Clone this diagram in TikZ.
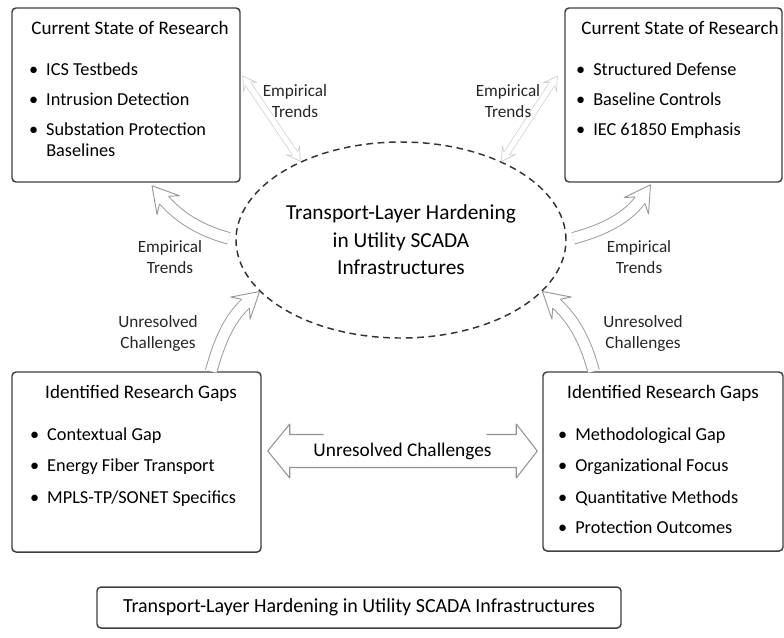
\documentclass[tikz,border=0pt]{standalone}
\usepackage{fontspec}
\setmainfont{Carlito}
\usetikzlibrary{shapes.geometric,decorations.markings,calc}

% open (hollow) arrow heads, drawn in the local frame of a marking
\newcommand\openhead[1]{%
  \fill[white] (0,0) -- (-19pt,11pt) -- (-14pt,4.4pt) -- (-14pt,-4.4pt) -- (-19pt,-11pt) -- cycle;
  \draw[#1, line width=0.7pt, line join=round]
    (-14pt,4.4pt) -- (-19pt,11pt) -- (0,0) -- (-19pt,-11pt) -- (-14pt,-4.4pt);}
\newcommand\thinhead[1]{%
  \fill[white] (0,0) -- (-10pt,6pt) -- (-7pt,2.4pt) -- (-7pt,-2.4pt) -- (-10pt,-6pt) -- cycle;
  \draw[#1, line width=0.5pt, line join=round]
    (-7pt,2.4pt) -- (-10pt,6pt) -- (0,0) -- (-10pt,-6pt) -- (-7pt,-2.4pt);}

% bent hollow arrow: shaft as a double line, head placed at the end
\newcommand\bendarrow[3][]{%
  \draw[shaft,#1] #2 #3;
  \path[decoration={markings, mark=at position 1 with {\openhead{gray!80}}}, decorate] #2 #3;}
% faint two-headed hollow arrow
\newcommand\faintarrow[2]{%
  \draw[faintshaft] #1 -- #2;
  \path[decoration={markings,
      mark=at position 0 with {\pgftransformrotate{180}\thinhead{gray!40}},
      mark=at position 1 with {\thinhead{gray!40}}}, decorate] #1 -- #2;}

\tikzset{
  box/.style={draw=black!75, line width=1.1pt, rounded corners=3pt, fill=white, inner sep=0pt},
  boxtitle/.style={font=\fontsize{14.3}{16}\selectfont, inner sep=0pt},
  item/.style={font=\fontsize{13.7}{16}\selectfont, inner sep=0pt, anchor=mid west},
  tag/.style={font=\fontsize{12.9}{15.75}\selectfont, align=center, inner sep=0pt, text=black!85},
  coreshape/.style={ellipse, draw=black!80, line width=1.1pt, dash pattern=on 5pt off 3.5pt,
    minimum width=247.5pt, minimum height=147pt, inner sep=0pt, align=center,
    font=\fontsize{16}{20.6}\selectfont},
  shaft/.style={draw=gray!80, line width=0.7pt, double=white, double distance=8pt, shorten >=12pt},
  faintshaft/.style={draw=gray!40, line width=0.5pt, double=white, double distance=4pt,
    shorten >=6pt, shorten <=6pt},
  wide/.style={draw=gray!85, line width=0.8pt, line join=round},
}
\newcommand\bul{\llap{\textbullet\hspace{6pt}}}

\begin{document}
\begin{tikzpicture}[x=0.75pt, y=0.75pt]
\useasboundingbox (0,0) rectangle (784,-637);

% central topic
\node[coreshape] (core) at (401,-240)
  {Transport-Layer Hardening\\in Utility SCADA\\Infrastructures};

% four surrounding boxes
\node[box, minimum width=171pt, minimum height=130.5pt] (tl) at (126,-95) {};
\node[box, minimum width=162.75pt, minimum height=130.5pt] (tr) at (673.5,-95) {};
\node[box, minimum width=186.75pt, minimum height=135pt] (bl) at (136.5,-462) {};
\node[box, minimum width=180pt, minimum height=134.25pt] (br) at (663,-461.5) {};

% top-left contents
\node[boxtitle] (tlh) at (130,-28) {Current State of Research};
\node[item] (tl1) at (46,-72) {\bul ICS Testbeds};
\node[item] (tl2) at (46,-102) {\bul Intrusion Detection};
\node[item] (tl3) at (46,-132) {\bul Substation Protection};
\node[item] (tl4) at (46,-153) {Baselines};

% top-right contents
\node[boxtitle] (trh) at (680,-28) {Current State of Research};
\node[item] (tr1) at (593,-72) {\bul Structured Defense};
\node[item] (tr2) at (593,-102) {\bul Baseline Controls};
\node[item] (tr3) at (593,-132) {\bul IEC 61850 Emphasis};

% bottom-left contents
\node[boxtitle] (blh) at (141,-393) {Identified Research Gaps};
\node[item] (bl1) at (47,-437) {\bul Contextual Gap};
\node[item] (bl2) at (47,-468) {\bul Energy Fiber Transport};
\node[item] (bl3) at (47,-500) {\bul MPLS-TP/SONET Specifics};

% bottom-right contents
\node[boxtitle] (brh) at (663,-393) {Identified Research Gaps};
\node[item] (br1) at (575,-437) {\bul Methodological Gap};
\node[item] (br2) at (575,-468) {\bul Organizational Focus};
\node[item] (br3) at (575,-500) {\bul Quantitative Methods};
\node[item] (br4) at (575,-530) {\bul Protection Outcomes};

% caption box
\node[box, minimum width=393pt, minimum height=30.75pt, font=\fontsize{15}{17}\selectfont]
  (cap) at (359,-607.5) {Transport-Layer Hardening in Utility SCADA Infrastructures};

% faint links between the upper boxes and the topic
\faintarrow{([shift={(2,19)}]tl.east)}{(core.142)}
\faintarrow{([shift={(-7,19)}]tr.west)}{(core.38)}

% bent hollow arrows
\bendarrow[shorten <=5pt]{(core.west)}{to[out=165, in=-50] ([shift={(26,-3)}]tl.south)}
\bendarrow[shorten <=5pt]{(core.east)}{to[out=15, in=-124] ([shift={(-23,-2)}]tr.south)}
\bendarrow{([xshift=56]bl.north)}{to[out=75, in=-139] (core.200)}
\bendarrow{([xshift=-52]br.north)}{to[out=105, in=-41] (core.340)}

% wide two-headed arrow between the lower boxes
\coordinate (hl) at ([shift={(6,11)}]bl.east);
\coordinate (hr) at ([shift={(-5,10.5)}]br.west);
\draw[wide] ([shift={(56,16.5)}]hl) -- ([shift={(22,16.5)}]hl) -- ([shift={(22,27)}]hl)
  -- (hl) -- ([shift={(22,-27)}]hl) -- ([shift={(22,-16.5)}]hl)
  -- ([shift={(-21,-16.5)}]hr) -- ([shift={(-21,-27)}]hr) -- (hr)
  -- ([shift={(-21,27)}]hr) -- ([shift={(-21,16.5)}]hr) -- ([shift={(-51,16.5)}]hr);
\node[font=\fontsize{14.5}{16}\selectfont, inner sep=0pt] (mid) at ($(hl)!0.5!(hr)$) {Unresolved Challenges};

% arrow labels
\node[tag] (t1) at (295,-101) {Empirical\\Trends};
\node[tag] (t2) at (508,-101) {Empirical\\Trends};
\node[tag] (t3) at (170,-257) {Empirical\\Trends};
\node[tag] (t4) at (639,-257) {Empirical\\Trends};
\node[tag] (t5) at (158,-333) {Unresolved\\Challenges};
\node[tag] (t6) at (643,-333) {Unresolved\\Challenges};
\end{tikzpicture}
\end{document}
